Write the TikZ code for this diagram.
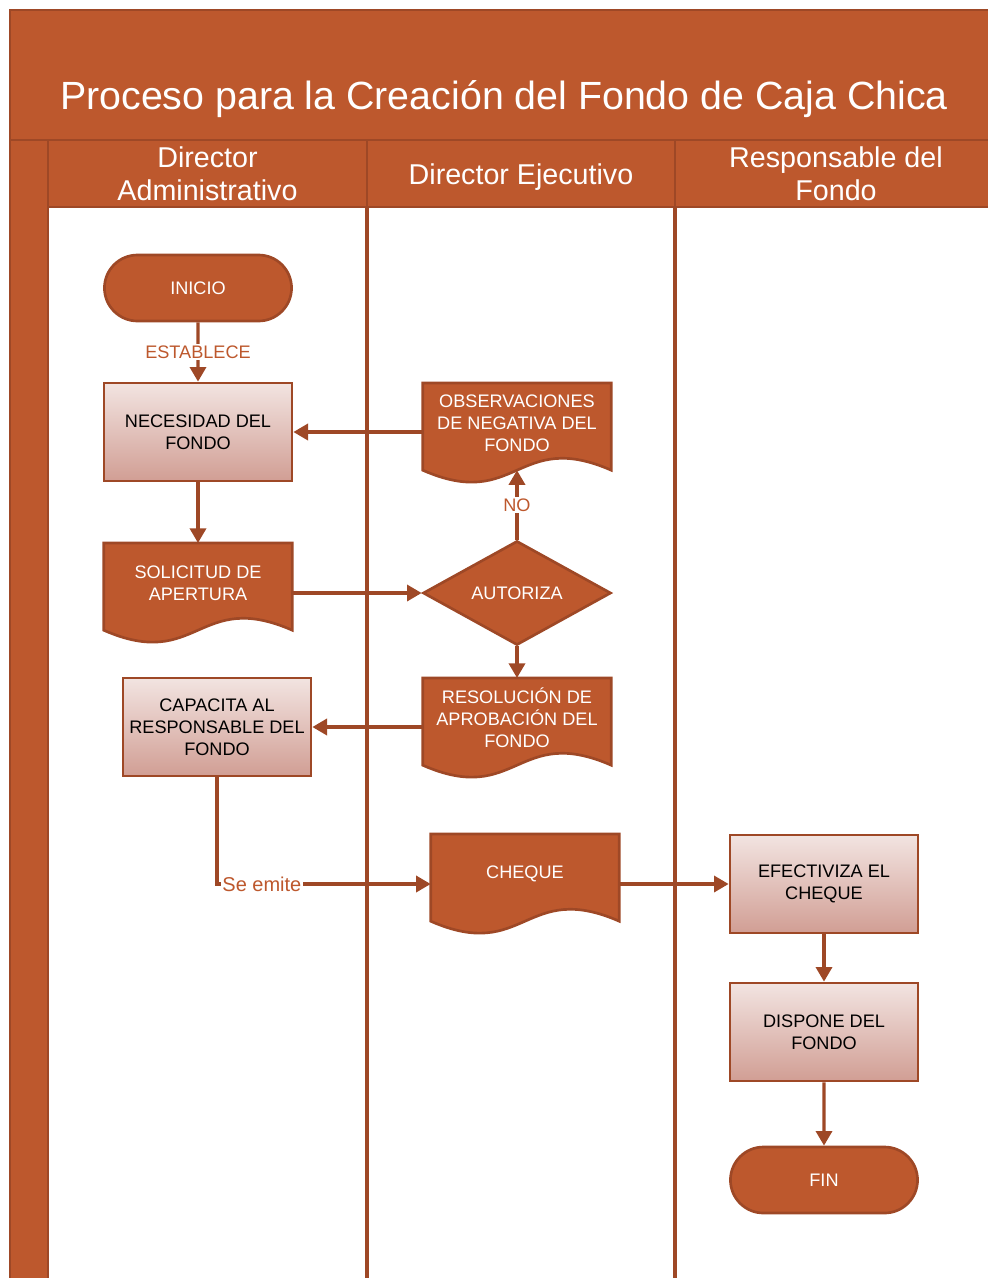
\documentclass[tikz,border=0pt]{standalone}
\usepackage{fontspec}
\setmainfont{Liberation Sans}
\usetikzlibrary{shapes.geometric,shapes.misc,arrows.meta}
\definecolor{naranja}{RGB}{189,88,45}
\definecolor{borde}{RGB}{158,72,38}
\definecolor{rosaclaro}{RGB}{242,228,225}
\definecolor{rosaosc}{RGB}{209,158,148}
\pgfdeclarelayer{fondo}
\pgfsetlayers{fondo,main}

\begin{document}
\begin{tikzpicture}[x=0.75pt,y=-0.75pt,
  texto/.style={font=\fontsize{13.6}{16.5}\selectfont, align=center},
  terminal/.style={texto, rounded rectangle, draw=borde, line width=2pt, fill=naranja, text=white, minimum width=147pt, minimum height=49.5pt},
  proceso/.style={texto, rectangle, draw=borde, line width=2pt, top color=rosaclaro, bottom color=rosaosc, minimum width=141pt, minimum height=73.5pt},
  documento/.style={texto, rectangle, text=white, minimum width=141pt, minimum height=59.5pt, anchor=north, inner sep=0pt},
  decision/.style={texto, diamond, draw=borde, line width=2pt, fill=naranja, text=white, minimum width=141pt, minimum height=73.5pt, inner sep=0pt},
  flecha/.style={draw=borde, line width=2.6pt, -{Triangle[length=11pt,width=12pt]}},
  etiqueta/.style={font=\fontsize{13.6}{16}\selectfont, text=naranja, fill=white, inner sep=1pt},
  cabecera/.style={font=\fontsize{21.5}{25}\selectfont, text=white, align=center},
  carril/.style={fill=naranja, draw=borde, line width=2pt}
]
\useasboundingbox (0,0) rectangle (988,1278);
\clip (0,0) rectangle (988,1278);

% titulo y carriles
\path[carril] (10,10) rectangle (1000,140);
\path[carril] (10,140) rectangle (48,1290);
\foreach \xa/\xb in {48/367, 367/675, 675/1000}
  \path[carril] (\xa,140) rectangle (\xb,207);
\foreach \xs in {367,675}
  \path[draw=borde, line width=2.5pt] (\xs,207) -- (\xs,1290);

\node[font=\fontsize{29.5}{32}\selectfont, text=white, anchor=base] (titulo) at (504,109) {Proceso para la Creación del Fondo de Caja Chica};
\node[cabecera] (dadm) at (207.5,173.5) {Director\\Administrativo};
\node[cabecera] (dejec) at (521,177) {Director Ejecutivo};
\node[cabecera] (dresp) at (836,173.5) {Responsable del\\Fondo};

% nodos
\node[terminal] (inicio) at (198,288) {INICIO};
\node[proceso] (necesidad) at (198,432) {NECESIDAD DEL\\FONDO};
\node[documento] (obs) at (517,383) {OBSERVACIONES\\DE NEGATIVA DEL\\FONDO};
\node[documento] (sol) at (198,543) {SOLICITUD DE\\APERTURA};
\node[decision] (aut) at (517,593) {AUTORIZA};
\node[documento] (res) at (517,678) {RESOLUCIÓN DE\\APROBACIÓN DEL\\FONDO};
\node[proceso] (cap) at (217,727) {CAPACITA AL\\RESPONSABLE DEL\\FONDO};
\node[documento] (cheque) at (525,834) {CHEQUE};
\node[proceso] (efect) at (824,884) {EFECTIVIZA EL\\CHEQUE};
\node[proceso] (dispone) at (824,1032) {DISPONE DEL\\FONDO};
\node[terminal] (fin) at (824,1180) {FIN};

% contorno ondulado de los documentos
\begin{pgfonlayer}{fondo}
\foreach \d in {obs,sol,res,cheque}
  \path[fill=naranja, draw=borde, line width=2pt] (\d.north west) -- (\d.north east) -- ([yshift=-5.5pt]\d.south east)
    .. controls ([yshift=25.5pt]\d.south) and ([yshift=-36.5pt]\d.south) .. ([yshift=-5.5pt]\d.south west) -- cycle;
\end{pgfonlayer}

% flechas
\path[flecha] (inicio) -- node[etiqueta] {ESTABLECE} (necesidad);
\path[flecha] (necesidad) -- (sol);
\path[flecha] (obs.west |- necesidad.east) -- (necesidad.east);
\path[flecha] (sol.east |- aut.west) -- (aut.west);
\path[flecha] (aut.north) -- node[etiqueta] {NO} ([yshift=-5.5pt]obs.south);
\path[flecha] (aut.south) -- (res.north);
\path[flecha] (res.west |- cap.east) -- (cap.east);
\path[flecha] (cap.south) |- node[etiqueta, font=\fontsize{15}{16}\selectfont, pos=0.605] {Se emite} (cheque.west |- efect.west);
\path[flecha] (cheque.east |- efect.west) -- (efect.west);
\path[flecha] (efect) -- (dispone);
\path[flecha] (dispone) -- (fin);
\end{tikzpicture}
\end{document}
